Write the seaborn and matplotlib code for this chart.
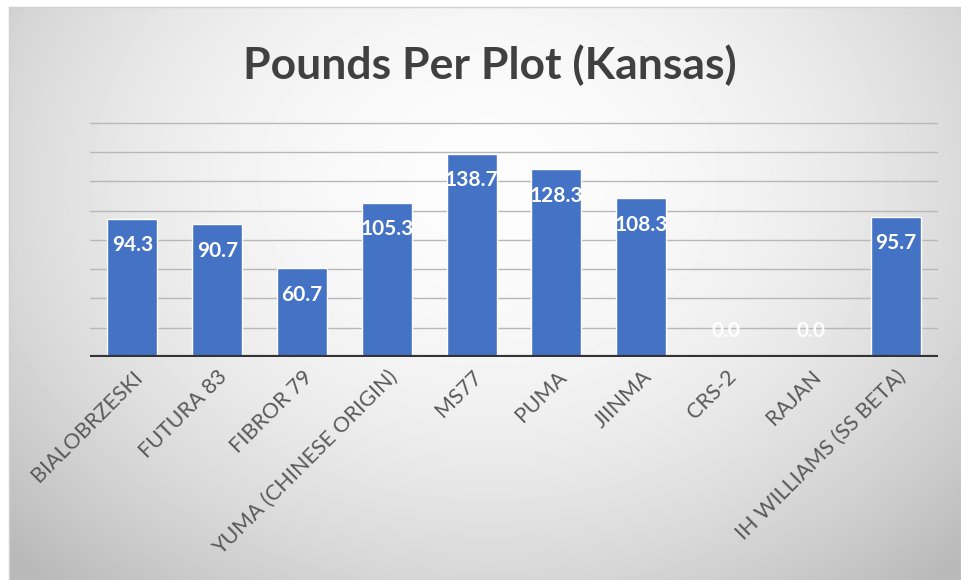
import numpy as np
import pandas as pd
import matplotlib
matplotlib.use('Agg')
import matplotlib.pyplot as plt
import seaborn as sns

# 数据
varieties = ['BIALOBRZESKI', 'FUTURA 83', 'FIBROR 79', 'YUMA (CHINESE ORIGIN)', 'MS77',
             'PUMA', 'JIINMA', 'CRS-2', 'RAJAN', 'IH WILLIAMS (SS BETA)']
pounds = [94.3, 90.7, 60.7, 105.3, 138.7, 128.3, 108.3, 0.0, 0.0, 95.7]
grid_values = [20, 40, 60, 80, 100, 120, 140, 160]

df = pd.DataFrame({'variety': varieties, 'pounds': pounds})

sns.set_style('white')
plt.rcParams['font.family'] = ['Lato', 'DejaVu Sans']

W, H = 961, 580
fig = plt.figure(figsize=(W / 100, H / 100), dpi=100)
fig.patch.set_facecolor('white')

# 背景渐变（径向）
bg = fig.add_axes([9 / W, 0, (W - 9) / W, (H - 7) / H])
yy, xx = np.mgrid[0:H - 7, 0:W - 9]
d2 = ((xx - 480) / 500.0) ** 2 + ((yy - 175) / 400.0) ** 2
shade = np.clip(252 - 38 * d2, 185, 255) / 255.0
bg.imshow(shade, cmap='gray', vmin=0, vmax=1, aspect='auto', interpolation='bilinear')
bg.set_xticks([])
bg.set_yticks([])
for s in bg.spines.values():
    s.set_color('#d0d0d0')
    s.set_linewidth(1)

# 主图
ax = fig.add_axes([90 / W, (H - 357) / H, 848 / W, 235 / H])
ax.patch.set_alpha(0)
sns.barplot(data=df, x='variety', y='pounds', color='#4472C4', saturation=1,
            width=0.59, ax=ax, zorder=3)
ax.set_ylim(0, 160.5)
ax.set_xlim(-0.5, len(varieties) - 0.5)
for g in grid_values:
    ax.axhline(g, color='#b8b8b8', linewidth=1, zorder=1)
ax.axhline(0, color='#333333', linewidth=3, zorder=4)
for s in ax.spines.values():
    s.set_visible(False)
ax.set_yticks([])
ax.set_xlabel('')
ax.set_ylabel('')
ax.tick_params(axis='x', length=0, pad=7)
ax.set_xticks(range(len(varieties)))
ax.set_xticklabels(varieties, rotation=45, ha='right', rotation_mode='anchor',
                   fontsize=15.5, color='#595959')

# 数据标签
for i, v in enumerate(pounds):
    off = -19 if v > 0 else 19
    ax.annotate(f'{v:.1f}', xy=(i, v), xytext=(0, off), textcoords='offset points',
                ha='center', va='center', color='white', fontsize=15, fontweight='bold',
                zorder=5)

fig.text(490 / W, 1 - 65 / H, 'Pounds Per Plot (Kansas)', ha='center', va='center',
         fontsize=32, fontweight='bold', color='#404040')

fig.savefig('out.png', dpi=100)
